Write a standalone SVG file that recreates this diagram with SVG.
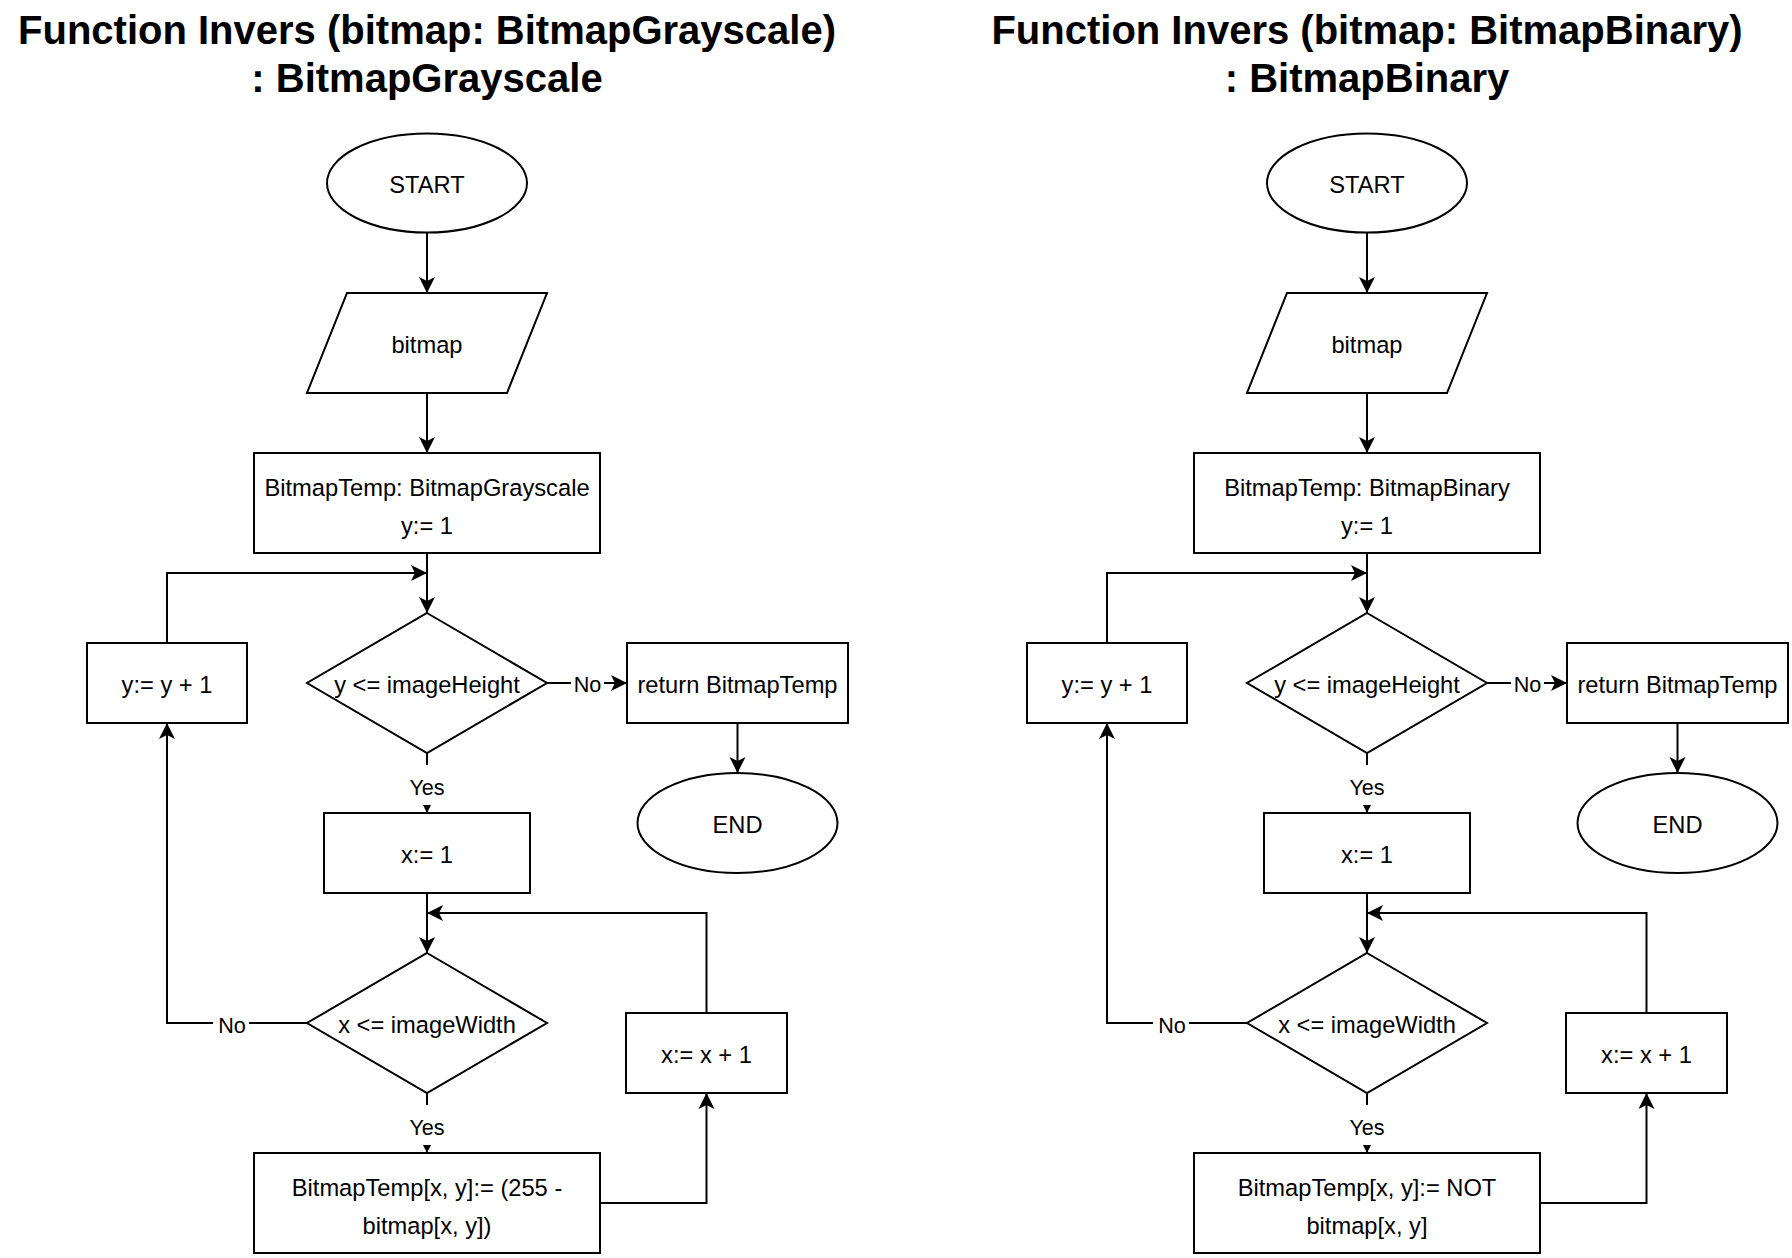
<svg xmlns="http://www.w3.org/2000/svg" width="1792" height="1258" viewBox="0 0 1792 1258">
<style>
  .shape { fill: #ffffff; stroke: #000000; stroke-width: 2; }
  .t { font-family: "Liberation Sans", Arial, Helvetica, sans-serif; font-size: 23.7px; fill: #000000; text-anchor: middle; }
  .lbl { font-family: "Liberation Sans", Arial, Helvetica, sans-serif; font-size: 21.6px; fill: #000000; text-anchor: middle; }
  .title { font-family: "Liberation Sans", Arial, Helvetica, sans-serif; font-size: 40px; font-weight: bold; fill: #000000; text-anchor: middle; }
  .edge { fill: none; stroke: #000000; stroke-width: 2; marker-end: url(#arr); }
  .lblbg { fill: #ffffff; stroke: none; }
</style>
<defs>
  <marker id="arr" markerWidth="18" markerHeight="18" refX="17" refY="9" orient="auto" markerUnits="userSpaceOnUse">
    <path d="M1,1 L17,9 L1,17 L5,9 Z" fill="#000000" stroke="none"/>
  </marker>
</defs>
<rect x="0" y="0" width="1792" height="1258" fill="#ffffff"/>

<g id="titles">
  <text class="title" x="427" y="44">Function Invers (bitmap: BitmapGrayscale)</text>
  <text class="title" x="427" y="92">: BitmapGrayscale</text>
  <text class="title" x="1367" y="44">Function Invers (bitmap: BitmapBinary)</text>
  <text class="title" x="1367" y="92">: BitmapBinary</text>
</g>

<!-- Left flowchart connectors -->
<g id="connectors-left">
  <path class="edge" d="M427,232.5 V293"/>
  <path class="edge" d="M427,393 V453"/>
  <path class="edge" d="M427,553 V613"/>
  <path class="edge" d="M167,643 V573 H427"/>
  <path class="edge" d="M547,683 H627"/>
  <rect class="lblbg" x="571" y="670" width="33" height="28"/>
  <text class="lbl" x="587.5" y="692">No</text>
  <path class="edge" d="M737.5,723 V773"/>
  <path class="edge" d="M427,753 V813"/>
  <rect class="lblbg" x="405" y="765" width="44" height="40"/>
  <text class="lbl" x="427" y="795">Yes</text>
  <path class="edge" d="M427,893 V953"/>
  <path class="edge" d="M706.5,1013 V913 H427"/>
  <path class="edge" d="M307,1023 H167 V723"/>
  <rect class="lblbg" x="213" y="1008" width="36" height="30"/>
  <text class="lbl" x="232" y="1033">No</text>
  <path class="edge" d="M427,1093 V1153"/>
  <rect class="lblbg" x="405" y="1105" width="44" height="40"/>
  <text class="lbl" x="427" y="1135">Yes</text>
  <path class="edge" d="M600,1203 H706.5 V1093"/>
</g>

<!-- Right flowchart connectors -->
<g id="connectors-right">
  <path class="edge" d="M1367,232.5 V293"/>
  <path class="edge" d="M1367,393 V453"/>
  <path class="edge" d="M1367,553 V613"/>
  <path class="edge" d="M1107,643 V573 H1367"/>
  <path class="edge" d="M1487,683 H1567"/>
  <rect class="lblbg" x="1511" y="670" width="33" height="28"/>
  <text class="lbl" x="1527.5" y="692">No</text>
  <path class="edge" d="M1677.5,723 V773"/>
  <path class="edge" d="M1367,753 V813"/>
  <rect class="lblbg" x="1345" y="765" width="44" height="40"/>
  <text class="lbl" x="1367" y="795">Yes</text>
  <path class="edge" d="M1367,893 V953"/>
  <path class="edge" d="M1646.5,1013 V913 H1367"/>
  <path class="edge" d="M1247,1023 H1107 V723"/>
  <rect class="lblbg" x="1153" y="1008" width="36" height="30"/>
  <text class="lbl" x="1172" y="1033">No</text>
  <path class="edge" d="M1367,1093 V1153"/>
  <rect class="lblbg" x="1345" y="1105" width="44" height="40"/>
  <text class="lbl" x="1367" y="1135">Yes</text>
  <path class="edge" d="M1540,1203 H1646.5 V1093"/>
</g>

<!-- Left flowchart nodes -->
<g id="L-start">
  <ellipse class="shape" cx="427" cy="183" rx="100" ry="49.5"/>
  <text class="t" x="427" y="193">START</text>
</g>
<g id="L-input">
  <polygon class="shape" points="347,293 547,293 507,393 307,393"/>
  <text class="t" x="427" y="353">bitmap</text>
</g>
<g id="L-init">
  <rect class="shape" x="254" y="453" width="346" height="100"/>
  <text class="t" x="427" y="496">BitmapTemp: BitmapGrayscale</text>
  <text class="t" x="427" y="533.5">y:= 1</text>
</g>
<g id="L-condY">
  <polygon class="shape" points="427,613 547,683 427,753 307,683"/>
  <text class="t" x="427" y="693">y &lt;= imageHeight</text>
</g>
<g id="L-incY">
  <rect class="shape" x="87" y="643" width="160" height="80"/>
  <text class="t" x="167" y="693">y:= y + 1</text>
</g>
<g id="L-return">
  <rect class="shape" x="627" y="643" width="221" height="80"/>
  <text class="t" x="737.5" y="693">return BitmapTemp</text>
</g>
<g id="L-end">
  <ellipse class="shape" cx="737.5" cy="823" rx="100" ry="50"/>
  <text class="t" x="737.5" y="833">END</text>
</g>
<g id="L-initX">
  <rect class="shape" x="324" y="813" width="206" height="80"/>
  <text class="t" x="427" y="863">x:= 1</text>
</g>
<g id="L-condX">
  <polygon class="shape" points="427,953 547,1023 427,1093 307,1023"/>
  <text class="t" x="427" y="1033">x &lt;= imageWidth</text>
</g>
<g id="L-incX">
  <rect class="shape" x="626" y="1013" width="161" height="80"/>
  <text class="t" x="706.5" y="1063">x:= x + 1</text>
</g>
<g id="L-assign">
  <rect class="shape" x="254" y="1153" width="346" height="100"/>
  <text class="t" x="427" y="1196">BitmapTemp[x, y]:= (255 -</text>
  <text class="t" x="427" y="1233.5">bitmap[x, y])</text>
</g>

<!-- Right flowchart nodes -->
<g id="R-start">
  <ellipse class="shape" cx="1367" cy="183" rx="100" ry="49.5"/>
  <text class="t" x="1367" y="193">START</text>
</g>
<g id="R-input">
  <polygon class="shape" points="1287,293 1487,293 1447,393 1247,393"/>
  <text class="t" x="1367" y="353">bitmap</text>
</g>
<g id="R-init">
  <rect class="shape" x="1194" y="453" width="346" height="100"/>
  <text class="t" x="1367" y="496">BitmapTemp: BitmapBinary</text>
  <text class="t" x="1367" y="533.5">y:= 1</text>
</g>
<g id="R-condY">
  <polygon class="shape" points="1367,613 1487,683 1367,753 1247,683"/>
  <text class="t" x="1367" y="693">y &lt;= imageHeight</text>
</g>
<g id="R-incY">
  <rect class="shape" x="1027" y="643" width="160" height="80"/>
  <text class="t" x="1107" y="693">y:= y + 1</text>
</g>
<g id="R-return">
  <rect class="shape" x="1567" y="643" width="221" height="80"/>
  <text class="t" x="1677.5" y="693">return BitmapTemp</text>
</g>
<g id="R-end">
  <ellipse class="shape" cx="1677.5" cy="823" rx="100" ry="50"/>
  <text class="t" x="1677.5" y="833">END</text>
</g>
<g id="R-initX">
  <rect class="shape" x="1264" y="813" width="206" height="80"/>
  <text class="t" x="1367" y="863">x:= 1</text>
</g>
<g id="R-condX">
  <polygon class="shape" points="1367,953 1487,1023 1367,1093 1247,1023"/>
  <text class="t" x="1367" y="1033">x &lt;= imageWidth</text>
</g>
<g id="R-incX">
  <rect class="shape" x="1566" y="1013" width="161" height="80"/>
  <text class="t" x="1646.5" y="1063">x:= x + 1</text>
</g>
<g id="R-assign">
  <rect class="shape" x="1194" y="1153" width="346" height="100"/>
  <text class="t" x="1367" y="1196">BitmapTemp[x, y]:= NOT</text>
  <text class="t" x="1367" y="1233.5">bitmap[x, y]</text>
</g>
</svg>
